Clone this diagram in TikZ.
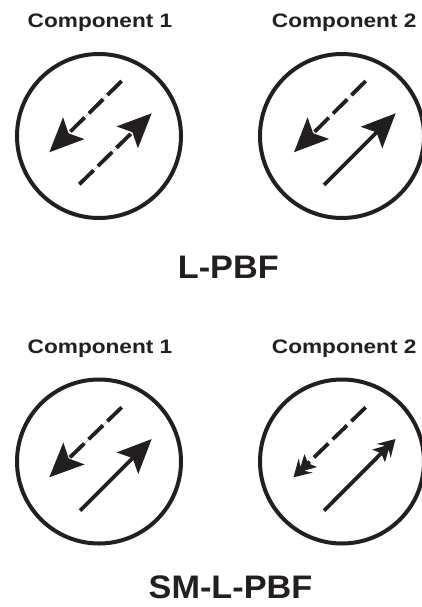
\documentclass[tikz,border=0pt]{standalone}
\usepackage{fontspec}
\setmainfont{Liberation Sans}
\usetikzlibrary{arrows.meta,calc}
\definecolor{ink}{RGB}{35,31,32}
% feathered head: #1 = tip coordinate, #2 = start coordinate of the shaft
\newcommand\spikehead[2]{%
  \fill[ink] (#1)
    -- ($(#1)!19.7pt!30.5:(#2)$)
    -- ($(#1)!12.3pt!11.8:(#2)$)
    -- ($(#1)!25.6pt!20.6:(#2)$)
    -- ($(#1)!21.1pt!5.2:(#2)$)
    -- ($(#1)!21.1pt!-5.2:(#2)$)
    -- ($(#1)!25.6pt!-20.6:(#2)$)
    -- ($(#1)!12.3pt!-11.8:(#2)$)
    -- ($(#1)!19.7pt!-30.5:(#2)$)
    -- cycle;}
\begin{document}
\begin{tikzpicture}[x=1pt,y=-1pt,
  ring/.style={draw=ink,line width=4pt,circle,minimum size=164pt,inner sep=0pt},
  shaft/.style={draw=ink,line width=3.8pt},
  dashline/.style={dash pattern=on 20pt off 6pt},
  bighead/.style={-{Stealth[length=34pt,width=30pt,inset=7pt]},fill=ink},
  lbl/.style={font=\bfseries\fontsize{19.5}{21}\selectfont,text=ink,anchor=base,inner sep=0pt},
  ttl/.style={font=\bfseries\fontsize{32.6}{34}\selectfont,text=ink,anchor=base,inner sep=0pt}]
\useasboundingbox (0,0) rectangle (422,607);
\fill[white] (0,0) rectangle (422,607);
% labels
\node[lbl] (l1) at (100,27.5) {\scalebox{1.16}[1]{Component 1}};
\node[lbl] (l2) at (344.2,27.5) {\scalebox{1.16}[1]{Component 2}};
\node[ttl] (t1) at (228.3,278.3) {\scalebox{1.05}[1]{L-PBF}};
\node[lbl] (l3) at (100,353) {\scalebox{1.16}[1]{Component 1}};
\node[lbl] (l4) at (344.2,353) {\scalebox{1.16}[1]{Component 2}};
\node[ttl] (t2) at (230.5,598.3) {\scalebox{1.05}[1]{SM-L-PBF}};
% circles
\node[ring] (c1) at (99,136) {};
\node[ring] (c2) at (342,136) {};
\node[ring] (c3) at (99,461.5) {};
\node[ring] (c4) at (342,461.5) {};
% top-left
\coordinate (a1s) at (121.7,81);   \coordinate (a1e) at (49.3,152.3);
\coordinate (b1s) at (79.3,184.3); \coordinate (b1e) at (151.7,113.3);
\draw[shaft,dashline,bighead] (a1s) -- (a1e);
\draw[shaft,dashline,bighead] (b1s) -- (b1e);
% top-right
\coordinate (a2s) at (365.7,81);   \coordinate (a2e) at (294,152.3);
\coordinate (b2s) at (324,185);    \coordinate (b2e) at (395.7,113.3);
\draw[shaft,dashline,bighead] (a2s) -- (a2e);
\draw[shaft,bighead] (b2s) -- (b2e);
% bottom-left
\coordinate (a3s) at (121.7,407.3); \coordinate (a3e) at (49.3,477.3);
\coordinate (b3s) at (80,510.7);    \coordinate (b3e) at (151.7,439);
\draw[shaft,dashline,bighead] (a3s) -- (a3e);
\draw[shaft,bighead] (b3s) -- (b3e);
% bottom-right (feathered heads)
\coordinate (a4s) at (365.7,407.3); \coordinate (a4e) at (293.5,477.3);
\coordinate (b4s) at (324,510.7);   \coordinate (b4e) at (395.5,439);
\draw[shaft,dashline] (a4s) -- ($(a4e)!15pt!(a4s)$);
\spikehead{a4e}{a4s}
\draw[shaft] (b4s) -- ($(b4e)!15pt!(b4s)$);
\spikehead{b4e}{b4s}
\end{tikzpicture}
\end{document}
